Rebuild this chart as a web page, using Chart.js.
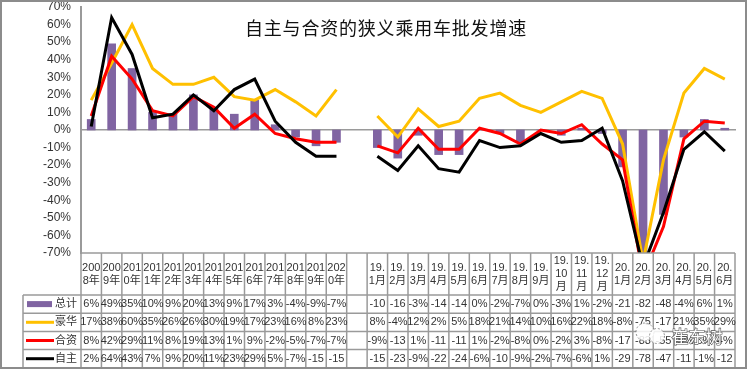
<!DOCTYPE html>
<html>
<head>
<meta charset="utf-8">
<style>
html, body { margin: 0; padding: 0; background: #fff; }
canvas { display: block; }
</style>
<script src="https://cdn.jsdelivr.net/npm/chart.js@4"></script>
</head>
<body>
<canvas id="chart" width="747" height="369"></canvas>
<script>
// Названия подписей по оси X (пустая колонка между годами и месяцами)
const categories = [
    ['200', '8年'], ['200', '9年'], ['201', '0年'], ['201', '1年'], ['201', '2年'], ['201', '3年'], ['201', '4年'],
    ['201', '5年'], ['201', '6年'], ['201', '7年'], ['201', '8年'], ['201', '9年'], ['202', '0年'], [''],
    ['19.', '1月'], ['19.', '2月'], ['19.', '3月'], ['19.', '4月'], ['19.', '5月'], ['19.', '6月'], ['19.', '7月'],
    ['19.', '8月'], ['19.', '9月'], ['19.', '10', '月'], ['19.', '11', '月'], ['19.', '12', '月'],
    ['20.', '1月'], ['20.', '2月'], ['20.', '3月'], ['20.', '4月'], ['20.', '5月'], ['20.', '6月']
];

// Данные
const total = [6, 49, 35, 10, 9, 20, 13, 9, 17, 3, -4, -9, -7, null,
    -10, -16, -3, -14, -14, 0, -2, -7, 0, -3, 1, -2, -21, -82, -48, -4, 6, 1];
const luxury = [17, 38, 60, 35, 26, 26, 30, 19, 17, 23, 16, 8, 23, null,
    8, -4, 12, 2, 5, 18, 21, 14, 10, 16, 22, 18, -8, -75, -17, 21, 35, 29];
const joint = [8, 42, 29, 11, 8, 19, 13, 1, 9, -2, -5, -7, -7, null,
    -9, -13, 1, -11, -11, 1, -2, -8, 0, -2, 3, -8, -17, -83, -55, -5, 5, 4];
const own = [2, 64, 43, 7, 9, 20, 11, 23, 29, 5, -7, -15, -15, null,
    -15, -23, -9, -22, -24, -6, -10, -9, -2, -7, -6, 1, -29, -78, -47, -11, -1, -12];

const yTicks = [70, 60, 50, 40, 30, 20, 10, 0, -10, -20, -30, -40, -50, -60, -70];

const titleText = '自主与合资的狭义乘用车批发增速';
const fontFamily = '"Liberation Sans", "Noto Sans CJK SC", sans-serif';
const gridColor = '#9a9a9a';
const textColor = '#333';

const series = [
    { name: '总计', data: total, color: '#8064A2' },
    { name: '豪华', data: luxury, color: '#FFC000' },
    { name: '合资', data: joint, color: '#FF0000' },
    { name: '自主', data: own, color: '#000000' }
];

// Подпись ячейки: длинные отрицательные числа идут без знака процента
function cellText(v) {
    if (v === null) return '';
    return v <= -10 ? String(v) : v + '%';
}

function line(c, x1, y1, x2, y2) {
    c.beginPath();
    c.moveTo(x1, y1);
    c.lineTo(x2, y2);
    c.stroke();
}

// Таблица данных под графиком, рамка, заголовок и водяной знак
const tablePlugin = {
    id: 'dataTable',
    afterDraw(chart) {
        const c = chart.ctx;
        const area = chart.chartArea;
        const xs = chart.scales.x;
        const colW = xs.getPixelForValue(1) - xs.getPixelForValue(0);
        const rowTop = 295;
        const rowH = 18.2;
        const legendLeft = 23;
        const tableBottom = rowTop + rowH * series.length;

        c.save();
        c.strokeStyle = gridColor;
        c.lineWidth = 1.5;
        line(c, area.left, area.bottom, area.right, area.bottom);
        categories.forEach((cat, i) => {
            line(c, area.left + colW * i, area.bottom, area.left + colW * i, tableBottom);
        });
        line(c, area.right, area.bottom, area.right, tableBottom);
        line(c, legendLeft, rowTop, legendLeft, tableBottom);
        for (let r = 0; r <= series.length; r++) {
            line(c, legendLeft, rowTop + rowH * r, area.right, rowTop + rowH * r);
        }

        c.textAlign = 'center';
        c.textBaseline = 'middle';
        c.fillStyle = textColor;
        c.font = '11px ' + fontFamily;

        // Шапка таблицы
        categories.forEach((cat, i) => {
            const cx = xs.getPixelForValue(i);
            const startY = (area.bottom + rowTop) / 2 - (cat.length - 1) * 6.5;
            cat.forEach((s, k) => c.fillText(s, cx, startY + k * 13));
        });

        // Строки таблицы и ключи легенды
        series.forEach((s, r) => {
            const cy = rowTop + rowH * r + rowH / 2;
            s.data.forEach((v, i) => {
                c.fillText(cellText(v), xs.getPixelForValue(i), cy);
            });
            c.fillText(s.name, 66, cy);
            if (r === 0) {
                c.fillStyle = s.color;
                c.fillRect(27, cy - 3, 25, 6);
                c.fillStyle = textColor;
            } else {
                c.strokeStyle = s.color;
                c.lineWidth = 3;
                line(c, 26, cy, 54, cy);
            }
        });

        // Заголовок
        c.fillStyle = '#111';
        c.font = '18px "Noto Sans CJK SC", sans-serif';
        c.letterSpacing = '0.8px';
        c.fillText(titleText, 386, 28);
        c.letterSpacing = '0px';

        // Внешняя рамка
        c.strokeStyle = '#8c8c8c';
        c.lineWidth = 2;
        c.strokeRect(1, 1, 745, 367);

        // Водяной знак
        c.strokeStyle = '#666';
        c.lineWidth = 0.7;
        c.setLineDash([2, 2]);
        c.fillStyle = 'rgba(255,255,255,0.85)';
        c.beginPath();
        c.arc(645, 332, 9, 0, Math.PI * 2);
        c.fill();
        c.stroke();
        c.beginPath();
        c.arc(657, 336, 7.5, 0, Math.PI * 2);
        c.fill();
        c.stroke();
        c.setLineDash([]);
        c.font = '17px "Noto Sans CJK SC", sans-serif';
        c.fillStyle = '#fff';
        c.strokeStyle = '#555';
        c.lineWidth = 1.2;
        c.strokeText('崔东树', 697, 337);
        c.fillText('崔东树', 697, 337);
        c.restore();
    }
};

const ctx = document.getElementById('chart').getContext('2d');
const chart = new Chart(ctx, {
    data: {
        labels: categories,
        datasets: [
            { type: 'bar', label: series[0].name, data: total, backgroundColor: series[0].color, barThickness: 8, order: 4 },
            { type: 'line', label: series[1].name, data: luxury, borderColor: series[1].color, borderWidth: 3, pointRadius: 0, tension: 0, order: 3 },
            { type: 'line', label: series[2].name, data: joint, borderColor: series[2].color, borderWidth: 3, pointRadius: 0, tension: 0, order: 2 },
            { type: 'line', label: series[3].name, data: own, borderColor: series[3].color, borderWidth: 3, pointRadius: 0, tension: 0, order: 1 }
        ]
    },
    options: {
        responsive: false,
        animation: false,
        layout: { padding: { top: 7, right: 12, bottom: 116, left: 0 } },
        plugins: { legend: { display: false }, title: { display: false }, tooltip: { enabled: false } },
        scales: {
            x: {
                position: { y: 0 },
                grid: { display: false },
                border: { color: gridColor, width: 1.5 },
                ticks: { display: false }
            },
            y: {
                min: -70,
                max: 70,
                afterFit(scale) {
                    scale.width = 81;
                    scale.paddingTop = 0;
                    scale.paddingBottom = 0;
                },
                afterBuildTicks(scale) { scale.ticks = yTicks.map(v => ({ value: v })); },
                grid: { display: false, drawTicks: false },
                border: { color: gridColor, width: 2 },
                ticks: {
                    padding: 10,
                    color: textColor,
                    font: { family: fontFamily, size: 12 },
                    callback: v => v + '%'
                }
            }
        }
    },
    plugins: [tablePlugin]
});
</script>
</body>
</html>
